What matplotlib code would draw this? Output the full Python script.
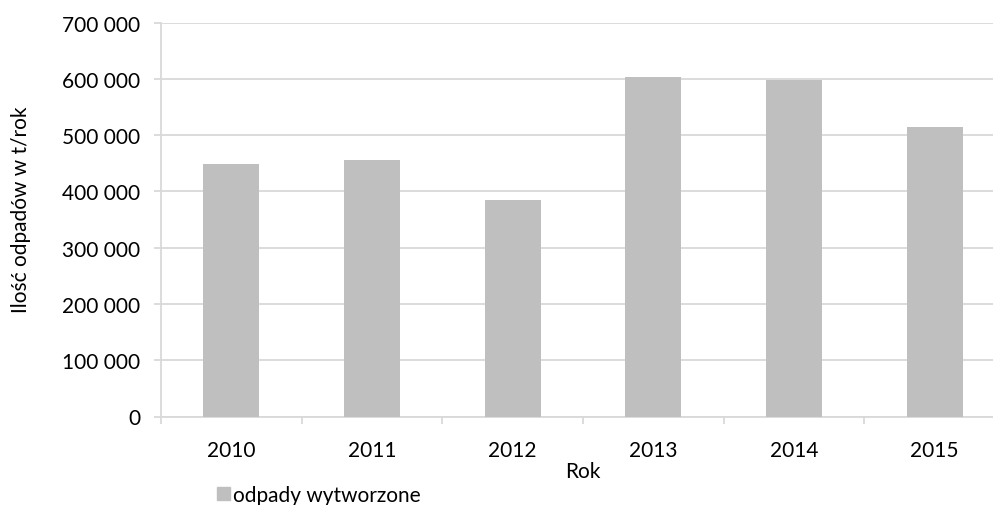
#Waste generated per year: bar chart

import matplotlib.pyplot as plt
from matplotlib.patches import Patch
from matplotlib.ticker import FuncFormatter, FixedLocator

plt.rcParams['font.family'] = ['Lato', 'DejaVu Sans']

years = ["2010", "2011", "2012", "2013", "2014", "2015"]
waste = [449000, 455000, 385000, 604000, 598000, 514000]
series_name = "odpady wytworzone"

bar_color = "#bfbfbf"
grid_color = "#d9d9d9"

fig = plt.figure(figsize=(9.93, 5.06), dpi=100)
ax = fig.add_axes([161 / 993, 88.5 / 506, 844 / 993, 394 / 506])

x = range(len(years))
ax.bar(x, waste, width=0.4, color=bar_color, zorder=3)

ax.set_xlim(-0.5, len(years) - 0.5)
ax.set_ylim(0, 700000)
ax.set_yticks(range(0, 700001, 100000))
ax.yaxis.set_major_formatter(FuncFormatter(lambda v, p: f"{int(v):,}".replace(",", " ")))
ax.grid(axis="y", color=grid_color, linewidth=1.3, zorder=0)

ax.set_xticks(list(x))
ax.set_xticklabels(years)
ax.xaxis.set_minor_locator(FixedLocator([i - 0.5 for i in range(len(years) + 1)]))
ax.tick_params(axis="x", which="major", length=0, pad=17, labelsize=15)
ax.tick_params(axis="x", which="minor", length=5, width=1.3, color=grid_color, direction="out")
ax.tick_params(axis="y", length=5, width=1.3, color=grid_color, pad=10, labelsize=15)

for side in ["top", "right"]:
    ax.spines[side].set_visible(False)
for side in ["left", "bottom"]:
    ax.spines[side].set_color(grid_color)
    ax.spines[side].set_linewidth(1.3)

ax.set_xlabel("Rok", fontsize=15, labelpad=1)
ax.set_ylabel("Ilość odpadów w t/rok", fontsize=15)
ax.yaxis.set_label_coords((21 - 161) / 844, (417.5 - 210) / 394)
ax.yaxis.label.set_verticalalignment("center")

fig.legend(
    handles=[Patch(color=bar_color, label=series_name)],
    loc="center left",
    bbox_to_anchor=(209 / 993, 1 - 496 / 506),
    frameon=False,
    fontsize=15,
    handlelength=0.6,
    handleheight=0.6,
    handletextpad=0.15,
    borderaxespad=0,
)

plt.savefig("out.png", dpi=100)
plt.close()
